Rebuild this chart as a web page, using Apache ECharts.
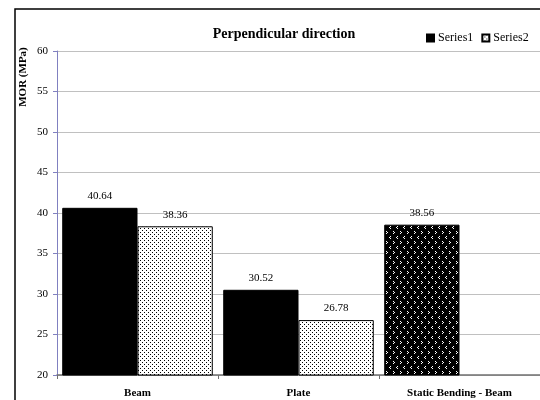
<!DOCTYPE html>
<html>
<head>
<meta charset="utf-8">
<style>html,body{margin:0;padding:0;background:#fff}#c{width:540px;height:400px}</style>
<script src="https://cdn.jsdelivr.net/npm/echarts@6/dist/echarts.min.js"></script>
</head>
<body>
<div id="c"></div>
<script>
var categories = ['Beam', 'Plate', 'Static Bending - Beam'];
var series1Values = [40.64, 30.52, 38.56];
var series2Values = [38.36, 26.78, null];
var seriesNames = ['Series1', 'Series2'];
var yMin = 20, yMax = 60, yStep = 5;

function dotPattern() {
  var c = document.createElement('canvas');
  c.width = 4; c.height = 4;
  var g = c.getContext('2d');
  g.fillStyle = '#fff'; g.fillRect(0, 0, 4, 4);
  g.fillStyle = '#000';
  g.fillRect(0, 0, 1, 1);
  g.fillRect(2, 2, 1, 1);
  return c;
}
function chevronPattern() {
  var c = document.createElement('canvas');
  c.width = 7; c.height = 10;
  var g = c.getContext('2d');
  g.fillStyle = '#000'; g.fillRect(0, 0, 7, 10);
  g.fillStyle = '#fff';
  g.fillRect(1, 1, 1, 1); g.fillRect(2, 2, 1, 1); g.fillRect(1, 3, 1, 1);
  g.fillRect(5, 6, 1, 1); g.fillRect(4, 7, 1, 1); g.fillRect(5, 8, 1, 1);
  return c;
}
var dots = {image: dotPattern(), repeat: 'repeat'};
var chev = {image: chevronPattern(), repeat: 'repeat'};

var font = '"Liberation Serif", "Times New Roman", serif';

var s1Data = series1Values.map(function (v, i) {
  if (i === 2) return {value: v, itemStyle: {color: chev}};
  return v;
});

var chart = echarts.init(document.getElementById('c'));
chart.setOption({
  animation: false,
  textStyle: {fontFamily: font},
  title: {
    text: 'Perpendicular direction',
    left: 279, top: 22, textAlign: 'center',
    textStyle: {fontFamily: font, fontSize: 14, fontWeight: 'bold', color: '#000'}
  },
  legend: {
    left: 421, top: 27,
    icon: 'rect', itemWidth: 7, itemHeight: 7, itemGap: 8,
    textStyle: {fontFamily: font, fontSize: 12, color: '#000', padding: [0, 0, 0, -1]},
    data: seriesNames
  },
  graphic: [
    {type: 'rect', shape: {x: 15, y: 9, width: 560, height: 420},
     style: {fill: null, stroke: '#000', lineWidth: 1.5}, silent: true, z: -10},
    {type: 'text', x: 23, y: 77, rotation: Math.PI / 2,
     style: {text: 'MOR (MPa)', font: 'bold 11px ' + font, fill: '#000', textAlign: 'center', textVerticalAlign: 'middle'}}
  ],
  grid: {left: 57, right: -2, top: 51, bottom: 25},
  xAxis: {
    type: 'category', data: categories,
    axisLine: {lineStyle: {color: '#707070', width: 1.5}},
    axisTick: {show: true, length: 4, lineStyle: {color: '#707070'}},
    axisLabel: {fontFamily: font, fontSize: 11, fontWeight: 'bold', color: '#000', margin: 13}
  },
  yAxis: {
    type: 'value', min: yMin, max: yMax, interval: yStep,
    axisLine: {show: true, lineStyle: {color: '#8080c0', width: 1}},
    axisTick: {show: true, length: 4, lineStyle: {color: '#8080c0'}},
    axisLabel: {fontFamily: font, fontSize: 11, color: '#000', margin: 9},
    splitLine: {lineStyle: {color: '#c0c0c0'}}
  },
  series: [
    {name: seriesNames[0], type: 'bar', data: s1Data, barGap: '0%', barCategoryGap: '6.5%',
     itemStyle: {color: '#000', borderColor: '#000', borderWidth: 1},
     label: {show: true, position: 'top', distance: 6, fontFamily: font, fontSize: 11, color: '#000'}},
    {name: seriesNames[1], type: 'bar', data: series2Values,
     itemStyle: {color: dots, borderColor: '#000', borderWidth: 1},
     label: {show: true, position: 'top', distance: 6, fontFamily: font, fontSize: 11, color: '#000'}}
  ]
});
</script>
</body>
</html>
